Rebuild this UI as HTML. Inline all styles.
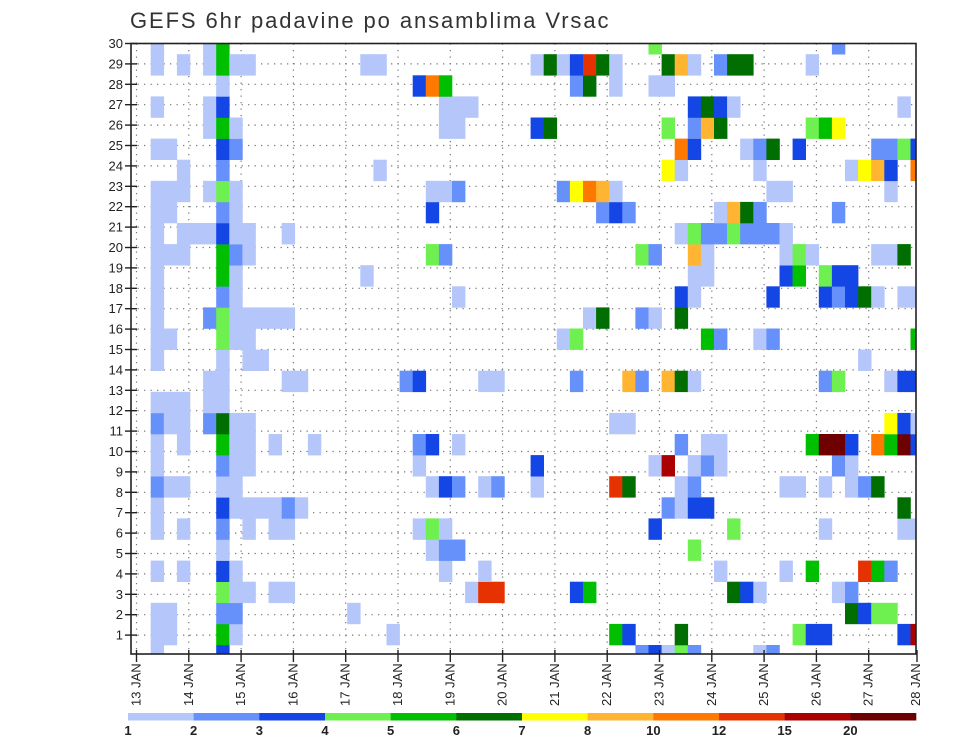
<!DOCTYPE html>
<html><head><meta charset="utf-8"><title>GEFS 6hr padavine</title>
<style>
html,body{margin:0;padding:0;background:#fff;}
svg{display:block;font-family:"Liberation Sans",sans-serif;}
</style></head>
<body>
<svg id="chart" width="960" height="742" viewBox="0 0 960 742" xmlns="http://www.w3.org/2000/svg">
<defs><clipPath id="plotclip"><rect x="131" y="43.5" width="785" height="610.5"/></clipPath></defs>
<rect x="0" y="0" width="960" height="742" fill="#fff"/>
<text x="130" y="28" font-size="22" fill="#333" letter-spacing="1.9">GEFS 6hr padavine po ansamblima Vrsac</text>
<g id="grid"></g>
<g id="cells" clip-path="url(#plotclip)"></g>
<rect x="131" y="43.5" width="785" height="610.5" fill="none" stroke="#222" stroke-width="1.6"/>
<g id="yaxis"></g>
<g id="xaxis"></g>
<g id="legend"></g>
</svg>
<script>
// Rows indexed by ensemble member row m (0 = bottom); entries "step:level"
const rows = [
"1:1 6:3 38:2 39:3 40:1 41:4 42:2 47:1 48:2",
"1:1 2:1 6:5 7:1 19:1 36:5 37:3 41:6 50:4 51:3 52:3 58:3 59:11",
"1:1 2:1 6:2 7:2 16:1 54:6 55:3 56:4 57:4",
"6:4 7:1 8:1 10:1 11:1 25:1 26:10 27:10 33:3 34:5 45:6 46:3 47:1 53:1 54:2",
"1:1 3:1 6:3 7:1 23:1 26:1 44:1 49:1 51:5 55:10 56:5 57:2",
"6:1 22:1 23:2 24:2 42:4",
"1:1 3:1 6:2 8:1 10:1 11:1 21:1 22:4 23:1 39:3 45:4 52:1 58:1 59:1",
"1:1 6:3 7:1 8:1 9:1 10:1 11:2 12:1 40:2 41:1 42:3 43:3 58:6",
"1:2 2:1 3:1 6:1 7:1 22:1 23:3 24:2 26:1 27:2 30:1 36:10 37:6 41:1 42:2 49:1 50:1 52:1 54:1 55:2 56:6",
"1:1 6:2 7:1 8:1 21:1 30:3 39:1 40:11 42:1 43:2 44:1 53:2 54:1",
"1:1 3:1 6:5 7:1 8:1 10:1 13:1 21:2 22:3 24:1 41:2 43:1 44:1 51:5 52:12 53:12 54:3 56:9 57:5 58:12 59:3",
"1:2 2:1 3:1 5:2 6:6 7:1 8:1 36:1 37:1 57:7 58:3 59:1",
"1:1 2:1 3:1 5:1 6:1",
"5:1 6:1 11:1 12:1 20:2 21:3 26:1 27:1 33:2 37:8 38:2 40:8 41:6 42:1 52:2 53:4 57:1 58:3 59:3",
"1:1 6:1 8:1 9:1 55:1",
"1:1 2:1 6:4 7:1 8:1 32:1 33:4 43:5 44:2 47:1 48:2 59:5",
"1:1 5:2 6:4 7:1 8:1 9:1 10:1 11:1 34:1 35:6 38:2 39:1 41:6",
"1:1 6:2 7:1 24:1 41:3 42:1 48:3 52:3 53:2 54:3 55:6 56:1 58:1 59:1",
"1:1 6:5 7:1 17:1 42:1 43:1 49:3 50:5 52:4 53:3 54:3",
"1:1 2:1 3:1 6:5 7:2 8:1 22:4 23:2 38:4 39:2 42:8 43:1 49:1 50:4 51:1 56:1 57:1 58:6",
"1:1 3:1 4:1 5:1 6:3 7:1 8:1 11:1 41:1 42:4 43:2 44:2 45:4 46:2 47:2 48:2 49:1",
"1:1 2:1 6:2 7:1 22:3 35:2 36:3 37:2 44:1 45:8 46:6 47:2 53:2",
"1:1 2:1 3:1 5:1 6:4 7:1 22:1 23:1 24:2 32:2 33:7 34:9 35:8 36:1 48:1 49:1 57:1",
"3:1 6:2 18:1 40:7 41:1 47:1 54:1 55:7 56:8 57:3 59:9",
"1:1 2:1 6:3 7:2 41:9 42:3 46:1 47:2 48:6 50:3 56:2 57:2 58:4 59:3",
"5:1 6:5 7:1 23:1 24:1 30:3 31:6 40:4 42:2 43:8 44:6 51:4 52:5 53:7",
"1:1 5:1 6:3 23:1 24:1 25:1 42:3 43:6 44:3 45:1 58:1",
"6:1 21:3 22:9 23:5 33:2 34:6 36:1 39:1 40:1",
"1:1 3:1 5:1 6:5 7:1 8:1 17:1 18:1 30:1 31:6 32:1 33:3 34:10 35:6 36:1 40:6 41:8 42:1 44:2 45:6 46:6 51:1",
"1:1 5:1 6:5 39:4 53:2"
];
const levelColors = ["#b4c6fa","#6690fa","#1446e6","#6ef050","#00be00","#006e00","#ffff00","#ffb432","#ff7800","#e63200","#aa0000","#6e0000"];
const levelLabels = ["1","2","3","4","5","6","7","8","10","12","15","20"];
const dayLabels = ["13","14","15","16","17","18","19","20","21","22","23","24","25","26","27","28"];
const yTicks = [1,2,3,4,5,6,7,8,9,10,11,12,13,14,15,16,17,18,19,20,21,22,23,24,25,26,27,28,29,30];

const NS = "http://www.w3.org/2000/svg";
function mk(tag, attrs, parent){const e=document.createElementNS(NS,tag);for(const k in attrs)e.setAttribute(k,attrs[k]);parent.appendChild(e);return e;}
const cellW = 13.1, cellH = 21.1;
function xCell(step){return 137.6 + cellW*step;}
function yCell(m){return 645 - cellH*m;}
function xDay(d){return 136.5 + 52.3*d;}
function yTick(v){return 43.5 + (30 - v)*20.4;}

const grid = document.getElementById('grid');
yTicks.forEach(v=>{
  const l = mk('line',{x1:131,x2:916,y1:yTick(v),y2:yTick(v),stroke:'#777','stroke-width':1.2,'stroke-dasharray':'1.3 5.2'},grid);
  
  
});
dayLabels.forEach((d,i)=>{
  const x = xDay(i); if (x>916) return;
  const l = mk('line',{x1:x,x2:x,y1:43.5,y2:654,stroke:'#777','stroke-width':1.2,'stroke-dasharray':'1.3 5.2'},grid);
  
  
});

const cells = document.getElementById('cells');
rows.forEach((row,m)=>{
  row.split(' ').forEach(tok=>{
    const p = tok.split(':'); const step=+p[0], lev=+p[1];
    const r = mk('rect',{x:xCell(step),y:yCell(m),width:cellW+0.3,height:cellH+0.3,fill:levelColors[lev-1]},cells);
    
    
  });
});

const yaxis = document.getElementById('yaxis');
yTicks.forEach(v=>{
  const y=yTick(v);
  const t = mk('line',{x1:125,x2:137,y1:y,y2:y,stroke:'#222','stroke-width':1.4},yaxis);
  
  
  const tx = mk('text',{x:123,y:y+4.5,'text-anchor':'end','font-size':13,fill:'#222'},yaxis);
  tx.textContent = v;
  
  
});

const xaxis = document.getElementById('xaxis');
dayLabels.forEach((d,i)=>{
  const x = Math.min(xDay(i), 917);
  const t = mk('line',{x1:x,x2:x,y1:650,y2:662,stroke:'#222','stroke-width':1.4},xaxis);
  
  
  const lx = Math.min(xDay(i), 916) + 4;
  const tx = mk('text',{x:0,y:0,'font-size':13,fill:'#222',transform:`translate(${lx},706) rotate(-90)`},xaxis);
  tx.textContent = d + ' JAN';
  
  
});

const legend = document.getElementById('legend');
const segW = (916-128)/levelColors.length;
levelColors.forEach((c,i)=>{
  const r = mk('rect',{x:128+segW*i,y:713,width:segW+0.3,height:7.5,fill:c},legend);
  
  
});
levelLabels.forEach((s,i)=>{
  const tx = mk('text',{x:128+segW*i,y:735,'text-anchor':'middle','font-size':13,'font-weight':'bold',fill:'#222'},legend);
  tx.textContent = s;
  
  
});
</script>
</body></html>
